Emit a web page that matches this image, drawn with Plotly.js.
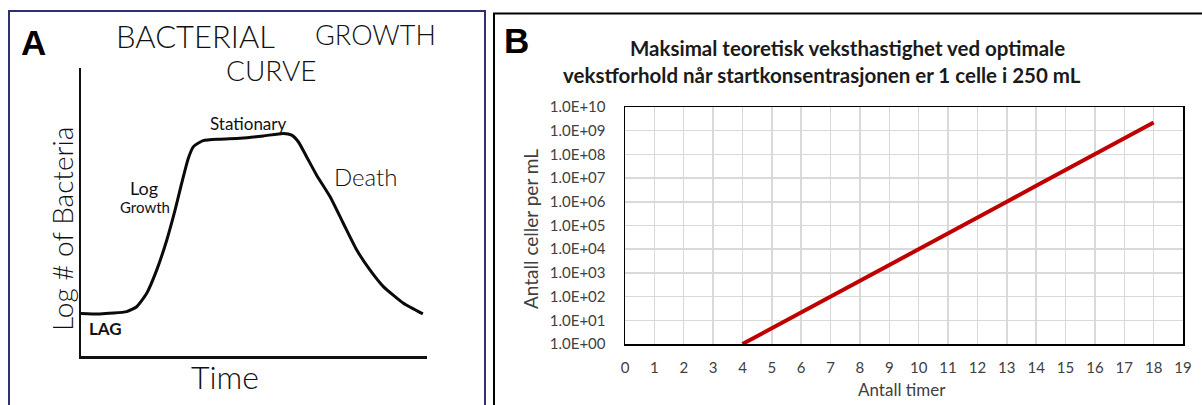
<!DOCTYPE html>
<html>
<head>
<meta charset="utf-8">
<script src="https://cdn.plot.ly/plotly-3.0.1.min.js"></script>
<style>html,body{margin:0;padding:0;background:#fff;}#chart{width:1202px;height:405px;}</style>
</head>
<body>
<div id="chart"></div>
<script>
// ---- Panel A: hand-drawn bacterial growth curve (arbitrary units) ----
const sketchTime = [0, 0.55, 1.32, 1.61, 1.90, 2.19, 2.48, 2.72, 2.91, 3.10, 3.25, 3.53, 4.02, 4.60, 5.27, 5.85, 6.09, 6.28, 6.52, 6.81, 7.20, 7.58, 7.97, 8.35, 8.74, 9.32, 9.88];
const sketchLogCount = [1.48, 1.46, 1.54, 1.71, 2.18, 2.99, 4.03, 5.07, 6.00, 6.86, 7.27, 7.48, 7.53, 7.56, 7.64, 7.73, 7.67, 7.44, 6.92, 6.28, 5.53, 4.61, 3.68, 2.99, 2.41, 1.83, 1.46];
const phaseLabels = ["LAG", "Log", "Growth", "Stationary", "Death"];

// ---- Panel B: theoretical maximum growth ----
const hours = [4, 5, 6, 7, 8, 9, 10, 11, 12, 13, 14, 15, 16, 17, 18];
const cellsPerMl = [1.0, 4.6, 21, 100, 470, 2200, 1.05e4, 4.8e4, 2.2e5, 1.0e6, 4.8e6, 2.2e7, 1.0e8, 4.8e8, 2.2e9];
const yTickVals = [1, 1e1, 1e2, 1e3, 1e4, 1e5, 1e6, 1e7, 1e8, 1e9, 1e10];
const yTickText = ["1.0E+00", "1.0E+01", "1.0E+02", "1.0E+03", "1.0E+04", "1.0E+05", "1.0E+06", "1.0E+07", "1.0E+08", "1.0E+09", "1.0E+10"];
const xTickVals = [0,1,2,3,4,5,6,7,8,9,10,11,12,13,14,15,16,17,18,19];
const titleBLine1 = "Maksimal teoretisk veksthastighet ved optimale";
const titleBLine2 = "vekstforhold når startkonsentrasjonen er 1 celle i 250 mL";

const W = 1202, H = 405;
const px = x => x / W;
const py = y => 1 - y / H;

const hand = {family: "Lato, 'DejaVu Sans', sans-serif", color: "#111", weight: 300};
const cal = {family: "Lato, 'Open Sans', sans-serif"};

function note(text, x, y, font, extra) {
  return Object.assign({text: text, x: px(x), y: py(y), xref: "paper", yref: "paper",
    xanchor: "center", yanchor: "middle", showarrow: false, font: font}, extra || {});
}
const hf = (size, weight) => Object.assign({}, hand, {size: size, weight: weight || 300});
const titleFont = {family: cal.family, size: 20.5, color: "#1a1a1a", weight: 700};

const traces = [
  {
    x: sketchTime, y: sketchLogCount, xaxis: "x2", yaxis: "y2",
    type: "scatter", mode: "lines",
    line: {color: "#0a0a0a", width: 3, shape: "spline", smoothing: 0.5},
    hoverinfo: "skip", showlegend: false
  },
  {
    x: hours, y: cellsPerMl, xaxis: "x", yaxis: "y",
    type: "scatter", mode: "lines",
    line: {color: "#c00000", width: 4},
    showlegend: false
  }
];

const layout = {
  width: W, height: H, autosize: false,
  margin: {l: 0, r: 0, t: 0, b: 0, pad: 0},
  paper_bgcolor: "#fff", plot_bgcolor: "rgba(0,0,0,0)",
  showlegend: false,
  xaxis: {
    domain: [px(625), px(1183)], anchor: "y",
    range: [0, 19], tickvals: xTickVals, ticks: "",
    showgrid: true, gridcolor: "#d9d9d9", gridwidth: 1.5,
    zeroline: false, showline: true, mirror: true, linecolor: "#000", linewidth: 1.5,
    tickfont: {family: cal.family, size: 15, color: "#404040"},
    ticklabelstandoff: 9
  },
  yaxis: {
    domain: [py(344), py(107)], anchor: "x",
    type: "log", range: [0, 10], tickvals: yTickVals, ticktext: yTickText, ticks: "",
    showgrid: true, gridcolor: "#d9d9d9", gridwidth: 1.5,
    zeroline: false, showline: true, mirror: true, linecolor: "#000", linewidth: 1.5,
    tickfont: {family: cal.family, size: 15, color: "#404040"},
    ticklabelstandoff: 15
  },
  xaxis2: {
    domain: [px(81), px(427)], anchor: "y2", range: [0, 10],
    showgrid: false, zeroline: false, showticklabels: false, ticks: "",
    showline: true, linecolor: "#111", linewidth: 2.5
  },
  yaxis2: {
    domain: [py(356), py(68)], anchor: "x2", range: [0, 10],
    showgrid: false, zeroline: false, showticklabels: false, ticks: "",
    showline: true, linecolor: "#111", linewidth: 2.5
  },
  shapes: [
    {type: "rect", xref: "paper", yref: "paper", x0: px(9), x1: px(485), y0: -0.05, y1: py(11),
     line: {color: "#2f3070", width: 2}, fillcolor: "rgba(0,0,0,0)"},
    {type: "rect", xref: "paper", yref: "paper", x0: px(494), x1: 1.02, y0: -0.05, y1: py(13.5),
     line: {color: "#000", width: 2}, fillcolor: "rgba(0,0,0,0)"}
  ],
  annotations: [
    note("<b>A</b>", 33, 42, {family: "Liberation Sans, Arial, sans-serif", size: 35, color: "#000"}),
    note("<b>B</b>", 516, 40, {family: "Liberation Sans, Arial, sans-serif", size: 35, color: "#000"}),
    note("BACTERIAL", 195, 36, hf(31)),
    note("GROWTH", 375, 35, hf(27)),
    note("CURVE", 271, 70, hf(28)),
    note(phaseLabels[3], 248, 123, hf(17, 400)),
    note(phaseLabels[1], 144, 188, hf(18, 400)),
    note(phaseLabels[2], 145, 207, hf(15, 400)),
    note(phaseLabels[4], 365, 176, hf(24)),
    note("<b>" + phaseLabels[0] + "</b>", 105, 328, hf(17)),
    note("Log # of Bacteria", 62, 229, hf(28), {textangle: -90}),
    note("Time", 225, 376, hf(32)),
    note(titleBLine1, 847, 48, titleFont),
    note(titleBLine2, 822, 75, titleFont),
    note("Antall celler per mL", 530, 229, {family: cal.family, size: 19, color: "#404040"}, {textangle: -90}),
    note("Antall timer", 902, 389, {family: cal.family, size: 17, color: "#404040"})
  ]
};

Plotly.newPlot("chart", traces, layout, {displayModeBar: false, staticPlot: true});
</script>
</body>
</html>
